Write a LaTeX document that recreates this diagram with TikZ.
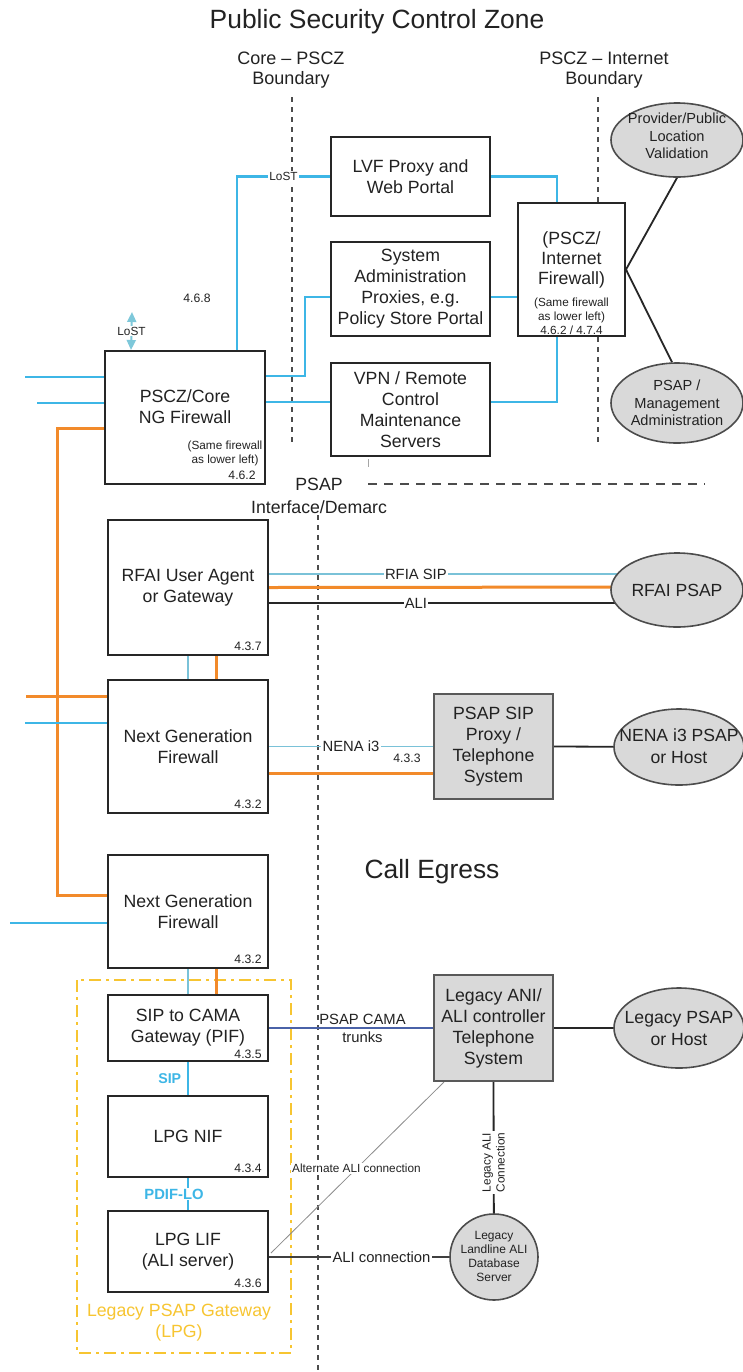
\documentclass[tikz,border=0pt]{standalone}
\usepackage{fontspec}
\setmainfont{Liberation Sans}
\usetikzlibrary{calc,backgrounds,arrows.meta,shapes.geometric}
\definecolor{cblue}{HTML}{3DB6E6}
\definecolor{cbluethin}{HTML}{7AC2D8}
\definecolor{corange}{HTML}{F28A2A}
\definecolor{cgray}{HTML}{D9D9D9}
\definecolor{cyellow}{HTML}{F7C531}
\definecolor{cnavy}{HTML}{4A62A8}
\definecolor{clost}{HTML}{7EC8DA}
\definecolor{ctext}{HTML}{222222}
\begin{document}
\begin{tikzpicture}[x=0.5pt,y=-0.5pt,
  fmain/.style={font=\fontsize{8.85}{10.5}\selectfont, text=ctext},
  fsmall/.style={font=\fontsize{5.9}{7}\selectfont, text=ctext},
  fnum/.style={font=\fontsize{6.1}{7}\selectfont, text=ctext},
  flbl/.style={font=\fontsize{7.4}{8.8}\selectfont, text=ctext},
  ftitle/.style={font=\fontsize{13.2}{15}\selectfont, text=ctext},
  fbound/.style={font=\fontsize{9}{10}\selectfont, text=ctext},
  fell/.style={font=\fontsize{7.3}{8.8}\selectfont, text=ctext},
  fellb/.style={font=\fontsize{8.8}{11}\selectfont, text=ctext},
  fdb/.style={font=\fontsize{6}{7}\selectfont, text=ctext},
  box/.style={draw=black!85, line width=1pt, fill=white, align=center, inner sep=0pt, fmain},
  gbox/.style={box, fill=cgray, draw=black!65},
  ell/.style={ellipse, draw=black!70, line width=0.8pt, fill=cgray, inner sep=0pt},
  num/.style={fnum, anchor=south east, inner sep=0pt},
  bl/.style={cblue, line width=1.1pt},
  blthin/.style={cbluethin, line width=0.7pt},
  orl/.style={corange, line width=1.5pt},
  blk/.style={black!85, line width=0.9pt},
  dsh/.style={black!70, line width=0.6pt, dash pattern=on 2.5pt off 2.5pt},
  lbl/.style={flbl, fill=white, inner sep=0.6pt},
]
\useasboundingbox (0,0) rectangle (743,1372);

% headings
\node[ftitle] (title) at (377,22) {Public Security Control Zone};
\node[fbound, align=center] (bcore) at (291,70) {Core – PSCZ\\Boundary};
\node[fbound, align=center] (binet) at (604,70) {PSCZ – Internet\\Boundary};
\node[fmain, align=center, font=\fontsize{8.85}{11.5}\selectfont] (demarc) at (319,496) {PSAP\\Interface/Demarc};
\node[ftitle] (egress) at (432,872) {Call Egress};
\node[fnum] (n468) at (197,298) {4.6.8};

% boxes (top)
\node[box, minimum width=79.5pt, minimum height=39.5pt] (lvf) at (410.5,176.5) {LVF Proxy and\\Web Portal};
\node[box, minimum width=79.5pt, minimum height=47pt] (sysadm) at (410.5,289) {System\\Administration\\Proxies, e.g.\\Policy Store Portal};
\node[box, minimum width=79.5pt, minimum height=46.5pt] (vpn) at (410.5,409.5) {VPN / Remote\\Control\\Maintenance\\Servers};
\node[box, minimum width=53.5pt, minimum height=66.5pt] (inetfw) at (571.5,269.5) {};
\node[fmain, align=center, font=\fontsize{8.85}{10}\selectfont] (inetfwT) at (571.5,260) {(PSCZ/\\Internet\\Firewall)};
\node[fsmall, align=center] (inetfwS) at (571.5,316) {(Same firewall\\as lower left)\\4.6.2 / 4.7.4};
\node[box, minimum width=80pt, minimum height=66.5pt] (corefw) at (185,417.5) {};
\node[fmain, align=center] (corefwT) at (185,406.5) {PSCZ/Core\\NG Firewall};
\node[fsmall, align=center] (corefwS) at (225,453.5) {(Same firewall\\as lower left)};
\node[num] (corefwN) at ($(corefw.south east)+(-10,-5)$) {4.6.2};

% ellipses (top)
\node[ell, minimum width=66pt, minimum height=37pt] (provider) at (677,140) {};
\node[fell, align=center] (providerT) at (677,136) {Provider/Public\\Location\\Validation};
\node[ell, minimum width=66pt, minimum height=40pt] (mgmt) at (677,403) {};
\node[fell, align=center] (mgmtT) at (677,403) {PSAP /\\Management\\Administration};

% middle
\node[box, minimum width=80pt, minimum height=67.5pt] (rfai) at (188,587.5) {RFAI User Agent\\or Gateway};
\node[num] (rfaiN) at ($(rfai.south east)+(-7,-5)$) {4.3.7};
\node[ell, minimum width=66pt, minimum height=37pt] (rfaipsap) at (677,590) {};
\node[fellb] (rfaipsapT) at (677,590) {RFAI PSAP};

\node[box, minimum width=80pt, minimum height=66.5pt] (ngfw1) at (188,746.5) {Next Generation\\Firewall};
\node[num] (ngfw1N) at ($(ngfw1.south east)+(-7,-5)$) {4.3.2};
\node[gbox, minimum width=59.5pt, minimum height=52.5pt] (psapsip) at (493.5,746.5) {PSAP SIP\\Proxy /\\Telephone\\System};
\node[fnum] (n433) at (407,758) {4.3.3};
\node[ell, minimum width=65pt, minimum height=38pt] (nenapsap) at (679,747) {};
\node[fellb, align=center] (nenapsapT) at (679,746) {NENA i3 PSAP\\or Host};

% lower
\node[box, minimum width=80pt, minimum height=56.5pt] (ngfw2) at (188,911.5) {Next Generation\\Firewall};
\node[num] (ngfw2N) at ($(ngfw2.south east)+(-7,-5)$) {4.3.2};
\node[box, minimum width=80pt, minimum height=33pt] (sipcama) at (188,1028) {SIP to CAMA\\Gateway (PIF)};
\node[num] (sipcamaN) at ($(sipcama.south east)+(-7,-3)$) {4.3.5};
\node[gbox, minimum width=59.5pt, minimum height=53pt] (legacyani) at (493.5,1028) {Legacy ANI/\\ALI controller\\Telephone\\System};
\node[ell, minimum width=65pt, minimum height=40pt] (legacypsap) at (679,1028) {};
\node[fellb, align=center] (legacypsapT) at (679,1028) {Legacy PSAP\\or Host};
\node[box, minimum width=80pt, minimum height=40.5pt] (nif) at (188,1136.5) {LPG NIF};
\node[num] (nifN) at ($(nif.south east)+(-7,-5)$) {4.3.4};
\node[box, minimum width=80pt, minimum height=40.5pt] (lif) at (188,1251.5) {LPG LIF\\(ALI server)};
\node[num] (lifN) at ($(lif.south east)+(-7,-5)$) {4.3.6};
\node[ell, minimum width=44pt, minimum height=43pt] (alidb) at (494,1257) {};
\node[fdb, align=center] (alidbT) at (494,1256) {Legacy\\Landline ALI\\Database\\Server};
\node[fmain, align=center, text=cyellow] (lpgT) at (179,1322.5) {Legacy PSAP Gateway\\(LPG)};

% free coordinates
\coordinate (cbTop) at (292,97);
\coordinate (cbBot) at (292,443);
\coordinate (ibTop) at (598,97);
\coordinate (ibBot) at (598,443);
\coordinate (dmL) at (368,484);
\coordinate (dmR) at (705,484);
\coordinate (dvTop) at (318,515);
\coordinate (dvBot) at (318,1372);
\coordinate (lostTop) at (132,312);
\coordinate (s1) at (25,377);
\coordinate (s2) at (37,403);
\coordinate (s3) at (26,696);
\coordinate (s4) at (25,723);
\coordinate (s5) at (10,923);

\begin{scope}[on background layer]
  \fill[white] (0,0) rectangle (743,1372);
  % boundaries
  \draw[dsh] (cbTop) -- (cbBot);
  \draw[dsh] (ibTop) -- (ibBot);
  \draw[black!70, line width=0.6pt, dash pattern=on 4.5pt off 3.5pt] (dmL) -- (dmR);
  \draw[dsh] (dvTop) -- (dvBot);
  \draw[cyellow, line width=1pt, dash pattern=on 6pt off 2.5pt on 1.5pt off 2.5pt] (77,980) rectangle (291,1353);
  \draw[black!35, line width=0.5pt] ($(vpn.south west)+(38,2)$) -- ++(0,8);

  % top connections
  \draw[bl] ($(corefw.north west)+(133,0)$) |- (lvf.west) node[pos=0.75, lbl, font=\fontsize{5.9}{7}\selectfont] (lostlbl) {LoST};
  \draw[bl] ($(corefw.north east)+(0,26)$) -- ++(39,0) |- ($(sysadm.west)+(0,8)$);
  \draw[bl] ($(corefw.north east)+(0,52)$) -- ($(vpn.north west)+(0,40)$);
  \draw[bl] (lvf.east) -| ($(inetfw.north west)+(40,0)$);
  \draw[bl] ($(sysadm.east)+(0,8)$) -- ($(inetfw.west)+(0,27.5)$);
  \draw[bl] ($(vpn.north east)+(0,40)$) -| ($(inetfw.south west)+(40,0)$);
  \draw[bl] (s1) -- (s1 -| corefw.west);
  \draw[bl] (s2) -- (s2 -| corefw.west);
  \draw[clost, line width=1pt, {Triangle[length=5pt,width=4.5pt]}-{Triangle[length=5pt,width=4.5pt]}] (lostTop) -- ($(corefw.north west)+(27,0)$) node[midway, lbl, font=\fontsize{5.9}{7}\selectfont] (lostlbl2) {LoST};
  \draw[blk] (inetfw.east) -- (provider.south);
  \draw[blk] (inetfw.east) -- ($(mgmt.north)+(-5,0)$);

  % orange trunk
  \draw[orl] ($(corefw.north west)+(0,78)$) -| ($(ngfw2.north west)+(-50,41)$) -- ($(ngfw2.north west)+(0,41)$);
  \draw[orl] (s3) -- (s3 -| ngfw1.west);
  \draw[bl] (s4) -- (s4 -| ngfw1.west);
  \draw[bl] (s5) -- (s5 -| ngfw2.west);

  % RFAI
  \draw[blthin] ($(rfai.east)+(0,-13.5)$) -- ($(rfaipsap.center)+(0,-16)$) node[pos=0.36, lbl] (rfiasip) {RFIA SIP};
  \draw[orl] (rfai.east) -- ($(rfaipsap.center)+(0,-3)$);
  \draw[blk] ($(rfai.east)+(0,15.5)$) -- ($(rfaipsap.center)+(0,13)$) node[pos=0.36, lbl] (alilbl) {ALI};
  \draw[blthin] (rfai.south) -- (ngfw1.north);
  \draw[orl] ($(rfai.south)+(28,0)$) -- ($(ngfw1.north)+(28,0)$);

  % NGFW1
  \draw[blthin] (ngfw1.east) -- (psapsip.west) node[midway, lbl] (nenalbl) {NENA i3};
  \draw[orl] ($(ngfw1.east)+(0,26.5)$) -- ($(psapsip.west)+(0,26.5)$);
  \draw[blk] (psapsip.east) -- (nenapsap.center);

  % NGFW2 / LPG
  \draw[blthin] (ngfw2.south) -- (sipcama.north);
  \draw[orl] ($(ngfw2.south)+(28,0)$) -- ($(sipcama.north)+(28,0)$);
  \draw[cnavy, line width=0.8pt] (sipcama.east) -- (legacyani.west) node[pos=0.57, flbl, align=center, inner sep=0pt, font=\fontsize{7.4}{9}\selectfont] (camalbl) {PSAP CAMA\\trunks};
  \draw[blk] (legacyani.east) -- (legacypsap.center);
  \draw[cblue, line width=0.8pt] (sipcama.south) -- (nif.north) node[midway, left, inner sep=3pt, font=\bfseries\fontsize{7.1}{8}\selectfont, text=cblue] (siplbl) {SIP};
  \draw[cblue, line width=0.8pt] (nif.south) -- (lif.north) node[midway, fill=white, inner sep=0.5pt, xshift=-7, font=\bfseries\fontsize{7.4}{8}\selectfont, text=cblue] (pdiflbl) {PDIF-LO};
  \draw[black!45, line width=0.4pt] ($(lif.east)+(2,1.5)$) -- ($(legacyani.south west)+(11,0)$) node[pos=0.494, fill=white, inner sep=0.4pt, fsmall] (altlbl) {Alternate ALI connection};
  \draw[black!75, line width=0.7pt] (lif.east |- alidb.west) -- (alidb.center) node[pos=0.5, lbl] (alicon) {ALI connection};
  \draw[blk] (legacyani.south) -- (alidb.center) node[pos=0.46, fill=white, inner sep=0.6pt, fsmall, align=center, rotate=90] (legali) {Legacy ALI\\Connection};
\end{scope}
\end{tikzpicture}
\end{document}
